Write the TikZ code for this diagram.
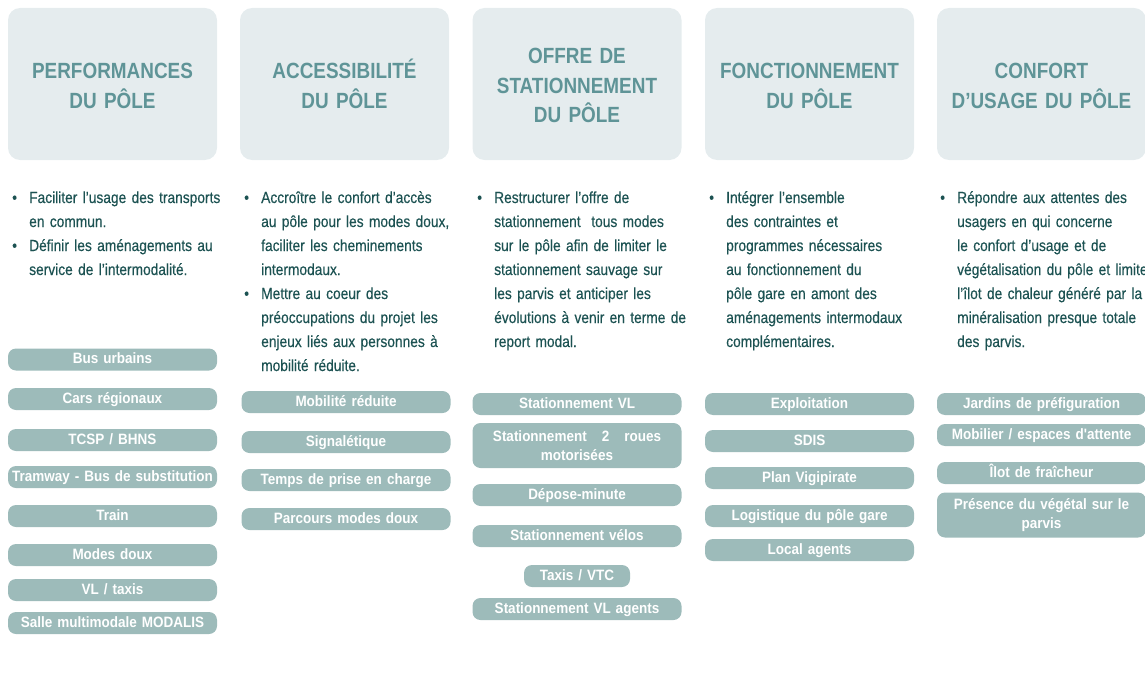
\documentclass[tikz,border=0pt]{standalone}
\usepackage{fontspec}
\usepackage{xcolor}
\usepackage{tikz}
\usetikzlibrary{positioning}
\setmainfont{Liberation Sans}
\newfontfamily\narrowfont[FakeStretch=0.86, WordSpace=0.85]{Liberation Sans}
\newfontfamily\bodyfont[FakeStretch=0.86, FakeBold=0.35, WordSpace=0.8]{Liberation Sans}
\newfontfamily\pillfont[FakeStretch=0.9, WordSpace=0.8]{Liberation Sans}
\definecolor{headFill}{RGB}{229,236,238}
\definecolor{headText}{RGB}{95,148,151}
\definecolor{bodyText}{RGB}{28,82,82}
\definecolor{pillFill}{RGB}{157,187,186}

% bullet and hanging indent for the description lines
\newcommand{\puce}{\makebox[17pt][l]{\textbullet}}
\newcommand{\suite}{\hspace*{17pt}}

\tikzset{
    headbox/.style={fill=headFill, rounded corners=12pt, minimum width=209pt, minimum height=152pt, inner sep=0pt},
    titletext/.style={anchor=base, text width=209pt, align=center, inner sep=0pt, text=headText,
        font=\narrowfont\bfseries\fontsize{22}{29.5}\selectfont},
    desctext/.style={anchor=base west, text width=240pt, align=left, inner sep=0pt, text=bodyText,
        font=\bodyfont\fontsize{16}{24}\selectfont},
    pillbase/.style={fill=pillFill, rounded corners=8pt, minimum width=209pt, inner sep=0pt,
        text width=205pt, align=center, text=white, font=\pillfont\bfseries\fontsize{15}{19.5}\selectfont},
    pill/.style={pillbase, minimum height=22pt, text height=11pt, text depth=3pt},
    pilltwo/.style={pillbase, minimum height=45pt}
}

\begin{document}
\begin{tikzpicture}[x=1pt, y=-1pt]
            \useasboundingbox (0,0) rectangle (1145,682);

            % Header boxes
            \node[headbox] (hperf) at (112.5,84) {};
            \node[headbox] (hacces) at (344.5,84) {};
            \node[headbox] (hstat) at (577,84) {};
            \node[headbox] (hfonct) at (809.5,84) {};
            \node[headbox] (hconf) at (1041.5,84) {};

            % Header titles
            \node[titletext] (tperf) at (112.5,79) {PERFORMANCES\\DU PÔLE};
            \node[titletext] (tacces) at (344.5,79) {ACCESSIBILITÉ\\DU PÔLE};
            \node[titletext] (tstat) at (577,64) {OFFRE DE\\STATIONNEMENT\\DU PÔLE};
            \node[titletext] (tfonct) at (809.5,79) {FONCTIONNEMENT\\DU PÔLE};
            \node[titletext] (tconf) at (1041.5,79) {CONFORT\\D’USAGE DU PÔLE};

            % Objectives
            \node[desctext] (dperf) at (12,203) {\puce Faciliter l’usage des transports\\
                \suite en commun.\\
                \puce Définir les aménagements au\\
                \suite service de l’intermodalité.};
            \node[desctext] (dacces) at (244,203) {\puce Accroître le confort d’accès\\
                \suite au pôle pour les modes doux,\\
                \suite faciliter les cheminements\\
                \suite intermodaux.\\
                \puce Mettre au coeur des\\
                \suite préoccupations du projet les\\
                \suite enjeux liés aux personnes à\\
                \suite mobilité réduite.};
            \node[desctext] (dstat) at (477,203) {\puce Restructurer l’offre de\\
                \suite stationnement\ \ tous modes\\
                \suite sur le pôle afin de limiter le\\
                \suite stationnement sauvage sur\\
                \suite les parvis et anticiper les\\
                \suite évolutions à venir en terme de\\
                \suite report modal.};
            \node[desctext] (dfonct) at (709,203) {\puce Intégrer l’ensemble\\
                \suite des contraintes et\\
                \suite programmes nécessaires\\
                \suite au fonctionnement du\\
                \suite pôle gare en amont des\\
                \suite aménagements intermodaux\\
                \suite complémentaires.};
            \node[desctext] (dconf) at (940,203) {\puce Répondre aux attentes des\\
                \suite usagers en qui concerne\\
                \suite le confort d’usage et de\\
                \suite végétalisation du pôle et limiter\\
                \suite l’îlot de chaleur généré par la\\
                \suite minéralisation presque totale\\
                \suite des parvis.};

            % Performances
            \node[pill] (bus) at (112.5,359.5) {Bus urbains};
            \node[pill] (cars) at (112.5,399) {Cars régionaux};
            \node[pill] (tcsp) at (112.5,440) {TCSP / BHNS};
            \node[pill] (tram) at (112.5,477) {Tramway - Bus de substitution};
            \node[pill] (train) at (112.5,516) {Train};
            \node[pill] (doux) at (112.5,555) {Modes doux};
            \node[pill] (vltaxi) at (112.5,590) {VL / taxis};
            \node[pill] (salle) at (112.5,623) {Salle multimodale MODALIS};

            % Accessibilite
            \node[pill] (pmr) at (346,402) {Mobilité réduite};
            \node[pill] (signal) at (346,442) {Signalétique};
            \node[pill] (temps) at (346,480) {Temps de prise en charge};
            \node[pill] (parcours) at (346,519) {Parcours modes doux};

            % Stationnement
            \node[pill] (stvl) at (577,404) {Stationnement VL};
            \node[pilltwo] (st2r) at (577,445.5) {Stationnement\ \ \ 2\ \ \ roues\\motorisées};
            \node[pill] (depose) at (577,495) {Dépose-minute};
            \node[pill] (velos) at (577,536) {Stationnement vélos};
            \node[pill, minimum width=106pt, text width=102pt] (vtc) at (577,576) {Taxis / VTC};
            \node[pill] (agents) at (577,609) {Stationnement VL agents};

            % Fonctionnement
            \node[pill] (exploit) at (809.5,404) {Exploitation};
            \node[pill] (sdis) at (809.5,441) {SDIS};
            \node[pill] (vigi) at (809.5,478) {Plan Vigipirate};
            \node[pill] (logist) at (809.5,516) {Logistique du pôle gare};
            \node[pill] (local) at (809.5,550) {Local agents};

            % Confort d'usage
            \node[pill] (jardins) at (1041.5,404) {Jardins de préfiguration};
            \node[pill] (mobilier) at (1041.5,435) {Mobilier / espaces d'attente};
            \node[pill] (ilot) at (1041.5,473) {Îlot de fraîcheur};
            \node[pilltwo] (vegetal) at (1041.5,515) {Présence du végétal sur le\\parvis};
\end{tikzpicture}
\end{document}
